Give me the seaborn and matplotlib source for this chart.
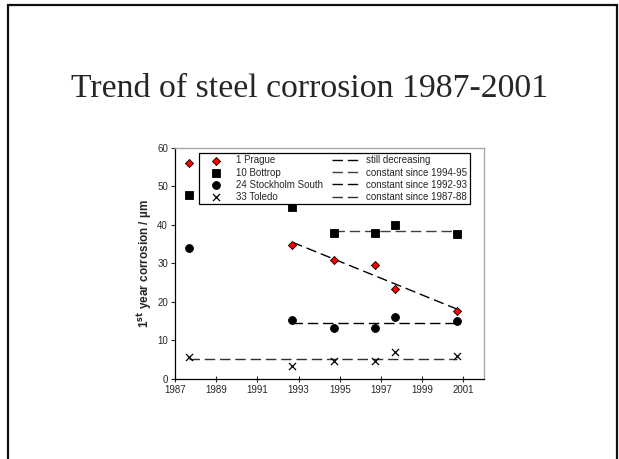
import numpy as np
import pandas as pd
import matplotlib
matplotlib.use("Agg")
import matplotlib.pyplot as plt
import seaborn as sns
from matplotlib.patches import Rectangle

# data
years = [1987.7, 1992.7, 1994.7, 1996.7, 1997.7, 2000.7]
prague = [56.2, 34.8, 30.9, 29.7, 23.3, 17.6]
bottrop = [47.9, 44.6, 37.8, 38.0, 40.0, 37.6]
stockholm = [33.9, 15.4, 13.2, 13.3, 16.1, 15.0]
toledo = [5.8, 3.3, 4.6, 4.6, 7.0, 6.0]

stations = ["1 Prague", "10 Bottrop", "24 Stockholm South", "33 Toledo"]
trend_labels = ["still decreasing", "constant since 1994-95",
                "constant since 1992-93", "constant since 1987-88"]
trend_start = [1992.7, 1994.7, 1992.7, 1987.7]   # first year used for each trend

df = pd.DataFrame({"year": years * 4,
                   "value": prague + bottrop + stockholm + toledo,
                   "station": [s for s in stations for _ in years]})

sns.set_style("ticks")
plt.rcParams["font.family"] = ["Liberation Sans", "DejaVu Sans"]

fig = plt.figure(figsize=(6.19, 4.59), dpi=100)
ax = fig.add_axes([0.2827, 0.1743, 0.4992, 0.5033])

markers = ["D", "s", "o", "x"]
faces = ["red", "black", "black", "black"]
sizes = [17, 28, 32, 26]
for st, m, fc, sz in zip(stations, markers, faces, sizes):
    sub = df[df["station"] == st]
    if m == "x":
        sns.scatterplot(data=sub, x="year", y="value", marker=m, color="black",
                        s=sz, linewidth=0.9, ax=ax, label=st, zorder=3)
    else:
        sns.scatterplot(data=sub, x="year", y="value", marker=m, color=fc,
                        edgecolor="black", linewidth=0.6, s=sz, ax=ax,
                        label=st, zorder=3)

# trend lines
dash = (0, (7.5, 3.5))
line_cols = ["black", "#404040", "black", "#303030"]
for st, lab, y0, lc in zip(stations, trend_labels, trend_start, line_cols):
    sub = df[(df["station"] == st) & (df["year"] >= y0)]
    xs = np.array([sub["year"].min(), sub["year"].max()])
    if lab == "still decreasing":
        k, b = np.polyfit(sub["year"], sub["value"], 1)
        ys = k * xs + b
    else:
        ys = np.full(2, sub["value"].mean())
    tr = pd.DataFrame({"year": xs, "value": ys})
    sns.lineplot(data=tr, x="year", y="value", color=lc, lw=1.0,
                 linestyle=dash, ax=ax, label=lab, zorder=2)

ax.set_xlim(1987, 2002)
ax.set_ylim(0, 60)
ax.set_xticks(np.arange(1987, 2002, 2))
ax.set_yticks(np.arange(0, 61, 10))
ax.tick_params(axis="both", labelsize=7, length=3, width=0.8, pad=2)
ax.tick_params(axis="x", direction="inout", length=4)
ax.set_xlabel("")
ax.set_ylabel("1$^{\\mathbf{st}}$ year corrosion / µm", fontsize=8.5,
              fontweight="bold", labelpad=2)
for s in ["left", "bottom"]:
    ax.spines[s].set_color("black")
    ax.spines[s].set_linewidth(0.9)
for s in ["top", "right"]:
    ax.spines[s].set_visible(True)
    ax.spines[s].set_color("#aaaaaa")
    ax.spines[s].set_linewidth(1.0)

h, l = ax.get_legend_handles_labels()
leg = ax.legend(h, l, ncol=2, loc="upper left", bbox_to_anchor=(0.078, 0.978),
                fontsize=7, frameon=True, fancybox=False, framealpha=1,
                edgecolor="black", handlelength=3.0, labelspacing=0.22,
                columnspacing=1.0, borderpad=0.25, handletextpad=0.5,
                borderaxespad=0)
leg.get_frame().set_linewidth(0.9)

fig.text(0.5, 1 - 89 / 459, "Trend of steel corrosion 1987-2001",
         ha="center", va="center", fontsize=24.3,
         family=["Liberation Serif", "DejaVu Serif"])

fig.patches.append(Rectangle((8 / 619, -0.05), 609 / 619, 1 - 5 / 459 + 0.05,
                             transform=fig.transFigure, fill=False,
                             edgecolor="#111111", linewidth=1.6))

fig.savefig("out.png", dpi=100)
